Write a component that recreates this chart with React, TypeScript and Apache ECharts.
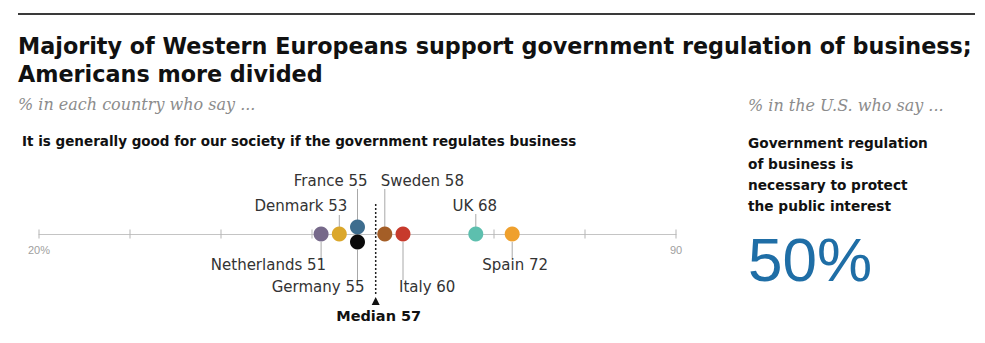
import React, { useEffect, useRef } from "react";
import * as echarts from "echarts";

const countries = ["Netherlands", "Denmark", "France", "Germany", "Sweden", "Italy", "UK", "Spain"];
const values = [51, 53, 55, 55, 58, 60, 68, 72];
const median = 57;
const axisTicks = [20, 30, 40, 50, 60, 70, 80, 90];
const axisTickLabels = ["20%", "", "", "", "", "", "", "90"];
const usShare = 50;

const colors: Record<string, string> = {
  Netherlands: "#76698a",
  Denmark: "#dba72b",
  France: "#3e6d8e",
  Germany: "#0a0a0a",
  Sweden: "#a45e27",
  Italy: "#c73a2c",
  UK: "#5dbfae",
  Spain: "#efa02d",
};

// layout (pixels relative to the axis line, down positive)
const layout: Record<string, any> = {
  Netherlands: { dot: 0, l1: 8, l2: 24, tx: 5, ty: 31, align: "right" },
  Denmark: { dot: 0, l1: -19, l2: -7, tx: 8, ty: -28, align: "right" },
  France: { dot: -7, l1: -45, l2: -14, tx: 10, ty: -53, align: "right" },
  Germany: { dot: 8, l1: 16, l2: 46, tx: 7, ty: 53, align: "right" },
  Sweden: { dot: 0, l1: -45, l2: -7, tx: -4, ty: -53, align: "left" },
  Italy: { dot: 0, l1: 8, l2: 46, tx: -4, ty: 53, align: "left" },
  UK: { dot: 0, l1: -20, l2: -7, tx: -1, ty: -28, align: "center" },
  Spain: { dot: 0, l1: 8, l2: 24, tx: 3, ty: 31, align: "center" },
};

const SANS = "'DejaVu Sans', Verdana, sans-serif";
const ARIAL = "'Liberation Sans', Arial, sans-serif";
const SERIF = "'DejaVu Serif', Georgia, serif";

export default function App() {
  const ref = useRef<HTMLDivElement>(null);
  useEffect(() => {
    document.body.style.margin = "0";
    const chart = echarts.init(ref.current!, null, { renderer: "svg" });
    const option: any = {
      animation: false,
      backgroundColor: "#ffffff",
      grid: { left: 39, right: 309, top: 174, height: 60 },
      xAxis: {
        type: "value",
        min: 20,
        max: 90,
        interval: 10,
        axisLine: { show: true, onZero: false, lineStyle: { color: "#c4c4c4", width: 1.2 } },
        axisTick: { show: false },
        splitLine: { show: false },
        axisLabel: {
          margin: 10,
          color: "#a0a0a0",
          fontSize: 11,
          fontFamily: ARIAL,
          formatter: (v: number) => axisTickLabels[axisTicks.indexOf(v)] ?? "",
        },
      },
      yAxis: {
        type: "value",
        min: 0,
        max: 60,
        show: false,
      },
      series: [
        {
          type: "scatter",
          symbol: "rect",
          symbolSize: [1, 9],
          itemStyle: { color: "#b5b5b5", opacity: 1 },
          data: axisTicks.map((t) => [t, 0]),
          z: 1,
          clip: false,
          silent: true,
        },
        {
          type: "custom",
          z: 2,
          clip: false,
          data: [[median, 0]],
          renderItem: (params: any, api: any) => {
            const p = api.coord([api.value(0), 0]);
            return {
              type: "group",
              children: [
                {
                  type: "line",
                  shape: { x1: p[0], y1: p[1] - 30, x2: p[0], y2: p[1] + 62 },
                  style: { stroke: "#222", lineWidth: 1.5, lineDash: [2, 2] },
                },
                {
                  type: "polygon",
                  shape: { points: [[p[0] - 4, p[1] + 71], [p[0] + 4, p[1] + 71], [p[0], p[1] + 63]] },
                  style: { fill: "#111" },
                },
                {
                  type: "text",
                  x: p[0] + 3,
                  y: p[1] + 82,
                  style: {
                    text: "Median " + api.value(0),
                    align: "center",
                    verticalAlign: "middle",
                    font: "bold 14.5px " + SANS,
                    fill: "#111",
                  },
                },
              ],
            };
          },
        },
        {
          type: "custom",
          z: 3,
          clip: false,
          data: values.map((v, i) => [v, 0, i]),
          renderItem: (params: any, api: any) => {
            const i = params.dataIndex;
            const name = countries[i];
            const L = layout[name];
            const p = api.coord([values[i], 0]);
            return {
              type: "group",
              children: [
                {
                  type: "line",
                  shape: { x1: p[0], y1: p[1] + L.l1, x2: p[0], y2: p[1] + L.l2 },
                  style: { stroke: "#a8a8a8", lineWidth: 1 },
                },
                {
                  type: "text",
                  x: p[0] + L.tx,
                  y: p[1] + L.ty,
                  style: {
                    text: name + " " + values[i],
                    align: L.align,
                    verticalAlign: "middle",
                    font: "15px " + SANS,
                    fill: "#333",
                  },
                },
              ],
            };
          },
        },
        {
          type: "scatter",
          z: 4,
          clip: false,
          symbolSize: 15,
          itemStyle: { opacity: 1 },
          data: values.map((v, i) => ({
            value: [v, -layout[countries[i]].dot],
            itemStyle: { color: colors[countries[i]], opacity: 1 },
          })),
        },
      ],
      graphic: [
        {
          type: "line",
          shape: { x1: 18, y1: 14, x2: 975, y2: 14 },
          style: { stroke: "#3a3a3a", lineWidth: 2 },
        },
        {
          type: "text",
          x: 18,
          y: 46,
          style: {
            text: "Majority of Western Europeans support government regulation of business;",
            font: "bold 22.3px " + SANS,
            fill: "#111",
            verticalAlign: "middle",
          },
        },
        {
          type: "text",
          x: 18,
          y: 74,
          style: {
            text: "Americans more divided",
            font: "bold 22.3px " + SANS,
            fill: "#111",
            verticalAlign: "middle",
          },
        },
        {
          type: "text",
          x: 18,
          y: 104,
          style: {
            text: "% in each country who say ...",
            font: "italic 16px " + SERIF,
            fill: "#8c8c8c",
            verticalAlign: "middle",
          },
        },
        {
          type: "text",
          x: 22,
          y: 141,
          style: {
            text: "It is generally good for our society if the government regulates business",
            font: "bold 13.5px " + SANS,
            fill: "#111",
            verticalAlign: "middle",
          },
        },
        {
          type: "text",
          x: 748,
          y: 105,
          style: {
            text: "% in the U.S. who say ...",
            font: "italic 16px " + SERIF,
            fill: "#8c8c8c",
            verticalAlign: "middle",
          },
        },
        {
          type: "text",
          x: 748,
          y: 132,
          style: {
            text: "Government regulation\nof business is\nnecessary to protect\nthe public interest",
            font: "bold 13.7px " + SANS,
            lineHeight: 21,
            fill: "#111",
            verticalAlign: "top",
          },
        },
        {
          type: "text",
          x: 748,
          y: 259,
          style: {
            text: usShare + "%",
            font: "62px " + ARIAL,
            fill: "#1f6ea6",
            verticalAlign: "middle",
          },
        },
      ],
    };
    chart.setOption(option);
    return () => chart.dispose();
  }, []);
  return <div ref={ref} style={{ width: 985, height: 343 }} />;
}
